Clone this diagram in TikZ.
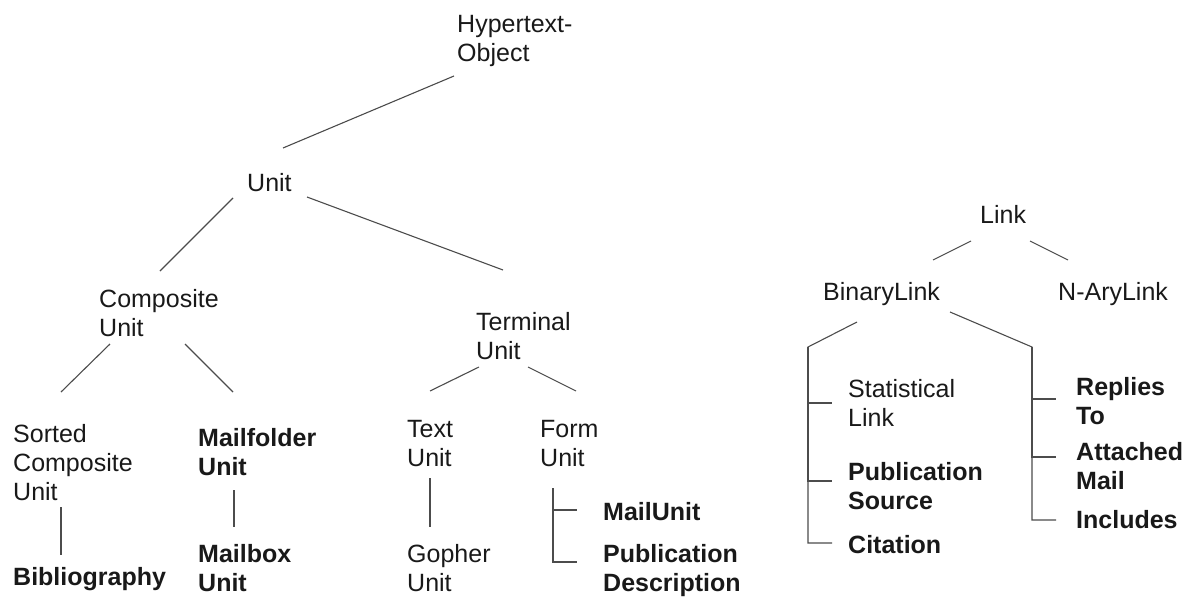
\documentclass[tikz,border=0pt]{standalone}
\usepackage{fontspec}
\setmainfont{Liberation Sans}
\begin{document}
\begin{tikzpicture}[x=1pt,y=-1pt,
	cls/.style={anchor=base west, inner sep=0pt, align=left, text=black!90, font=\fontsize{25}{29}\selectfont},
	bcls/.style={cls, font=\fontsize{25}{29}\selectfont\bfseries},
	ln/.style={line width=1.1pt, black!70}]
	\useasboundingbox (0,0) rectangle (1195,597);
	
	% unit tree (base = last line)
	\node[cls] (hyp) at (457,61) {Hypertext-\\Object};
	\node[cls] (unit) at (247,191) {Unit};
	\node[cls] (comp) at (99,336) {Composite\\Unit};
	\node[cls] (term) at (476,359) {Terminal\\Unit};
	\node[cls] (sorted) at (13,500) {Sorted\\Composite\\Unit};
	\node[bcls] (mfold) at (198,475) {Mailfolder\\Unit};
	\node[cls] (text) at (407,466) {Text\\Unit};
	\node[cls] (form) at (540,466) {Form\\Unit};
	\node[bcls] (biblio) at (13,585) {Bibliography};
	\node[bcls] (mbox) at (198,591) {Mailbox\\Unit};
	\node[cls] (gopher) at (407,591) {Gopher\\Unit};
	\node[bcls] (mailu) at (603,520) {MailUnit};
	\node[bcls] (pubdesc) at (603,591) {Publication\\Description};
	
	\draw[ln] ([shift={(-3,15)}]hyp.base west) -- ([shift={(36,-43)}]unit.base west);
	\draw[ln] ([shift={(-14,7)}]unit.base west) -- ([shift={(61,-65)}]comp.base west);
	\draw[ln] ([shift={(60,6)}]unit.base west) -- ([shift={(27,-89)}]term.base west);
	\draw[ln] ([shift={(11,8)}]comp.base west) -- ([shift={(48,-108)}]sorted.base west);
	\draw[ln] ([shift={(86,8)}]comp.base west) -- ([shift={(35,-83)}]mfold.base west);
	\draw[ln] ([shift={(3,8)}]term.base west) -- ([shift={(23,-75)}]text.base west);
	\draw[ln] ([shift={(52,8)}]term.base west) -- ([shift={(36,-75)}]form.base west);
	\draw[ln] ([shift={(48,7)}]sorted.base west) -- ([shift={(48,-30)}]biblio.base west);
	\draw[ln] ([shift={(36,15)}]mfold.base west) -- ([shift={(36,-64)}]mbox.base west);
	\draw[ln] ([shift={(23,12)}]text.base west) -- ([shift={(23,-64)}]gopher.base west);
	\draw[ln] ([shift={(13,22)}]form.base west) |- ([shift={(-26,-10)}]mailu.base west);
	\draw[ln] ([shift={(13,22)}]form.base west) |- ([shift={(-26,-29)}]pubdesc.base west);
	
	% link tree
	\node[cls] (link) at (980,223) {Link};
	\node[cls] (binary) at (823,300) {BinaryLink};
	\node[cls] (nary) at (1058,300) {N-AryLink};
	\node[cls] (stat) at (848,426) {Statistical\\Link};
	\node[bcls] (pubsrc) at (848,509) {Publication\\Source};
	\node[bcls] (cit) at (848,553) {Citation};
	\node[bcls] (replies) at (1076,424) {Replies\\To};
	\node[bcls] (attach) at (1076,489) {Attached\\Mail};
	\node[bcls] (incl) at (1076,528) {Includes};
	
	\draw[ln] ([shift={(-9,18)}]link.base west) -- ([shift={(110,-40)}]binary.base west);
	\draw[ln] ([shift={(50,18)}]link.base west) -- ([shift={(10,-40)}]nary.base west);
	\draw[ln] ([shift={(34,22)}]binary.base west) -- ([shift={(-15,47)}]binary.base west) |- ([shift={(-16,-10)}]cit.base west);
	\draw[ln] ([shift={(-15,47)}]binary.base west) |- ([shift={(-16,-23)}]stat.base west);
	\draw[ln] ([shift={(-15,47)}]binary.base west) |- ([shift={(-16,-28)}]pubsrc.base west);
	\draw[ln] ([shift={(127,12)}]binary.base west) -- ([shift={(209,47)}]binary.base west) |- ([shift={(-20,-8)}]incl.base west);
	\draw[ln] ([shift={(209,47)}]binary.base west) |- ([shift={(-20,-25)}]replies.base west);
	\draw[ln] ([shift={(209,47)}]binary.base west) |- ([shift={(-20,-32)}]attach.base west);
\end{tikzpicture}
\end{document}
